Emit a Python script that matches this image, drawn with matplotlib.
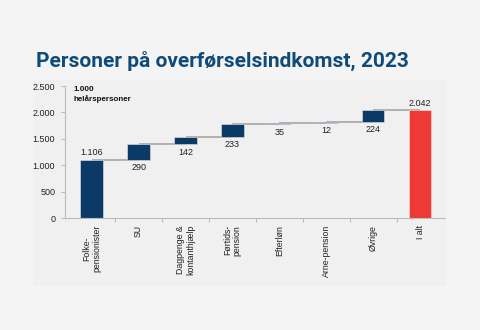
import matplotlib
matplotlib.use("Agg")
import matplotlib.pyplot as plt
from matplotlib.patches import Rectangle
import numpy as np

categories = ["Folke-\npensionister", "SU", "Dagpenge &\nkontanthjælp", "Førtids-\npension",
              "Efterløn", "Arne-pension", "Øvrige", "I alt"]
values = [1106, 290, 142, 233, 35, 12, 224]
total = 2042
value_labels = ["1.106", "290", "142", "233", "35", "12", "224", "2.042"]
yticks = [0, 500, 1000, 1500, 2000, 2500]
ytick_labels = ["0", "500", "1.000", "1.500", "2.000", "2.500"]

navy = "#0c3a67"
red = "#ee3a36"
grey = "#a6a6a6"

fig = plt.figure(figsize=(4.8, 3.3), dpi=100)
fig.patch.set_facecolor("#f4f4f4")
fig.patches.append(Rectangle((33/480, 44/330), 413/480, 206/330, transform=fig.transFigure,
                             facecolor="#f0f0f0", edgecolor="none", zorder=-5))

fig.text(36/480, 1 - 61/330, "Personer på overførselsindkomst, 2023", fontsize=15,
         fontweight="bold", color="#0f4a78", family="Roboto", ha="left", va="center")

ax = fig.add_axes([65/480, 1 - 218/330, 380/480, 132/330])
ax.set_zorder(2)
ax.set_facecolor("none")

n = len(values) + 1
x = np.arange(n)
bottoms = []
cum = 0
for i, v in enumerate(values):
    if i == 0:
        bottoms.append(0)
    else:
        bottoms.append(cum)
    cum += v
heights = values + [total]
bottoms = bottoms + [0]
colors = [navy] * len(values) + [red]

# connector lines
levels = np.cumsum(values)
for i in range(len(values)):
    ax.plot([x[i], x[i + 1]], [levels[i], levels[i]], color=grey, lw=1.2, zorder=1,
            solid_capstyle="butt")

ax.bar(x, heights, bottom=bottoms, width=0.48, color=colors, edgecolor="#e8e8e8",
       linewidth=0.4, zorder=2)

fs = 6.5
fam = "Liberation Sans"
for i in range(n):
    if i == 0 or i == n - 1:
        ax.text(x[i], bottoms[i] + heights[i] + 45, value_labels[i], ha="center", va="bottom",
                fontsize=fs, family=fam, color="#222222")
    else:
        ax.text(x[i], bottoms[i] - 65, value_labels[i], ha="center", va="top",
                fontsize=fs, family=fam, color="#222222")

ax.text(0.022, 1.0, "1.000\nhelårspersoner", transform=ax.transAxes, ha="left", va="top",
        fontsize=5.8, fontweight="bold", family=fam, color="#111111", linespacing=1.3)

ax.set_xlim(-0.57, n - 1 + 0.53)
ax.set_ylim(0, 2500)
ax.set_yticks(yticks)
ax.set_yticklabels(ytick_labels, fontsize=fs, family=fam, color="#222222")
ax.set_xticks(x)
ax.set_xticklabels(categories, rotation=90, fontsize=6.3, family=fam, color="#222222",
                   va="top", ha="center", linespacing=1.1)
ax.tick_params(axis="x", length=0, pad=5)
ax.set_xticks(np.arange(n - 1) + 0.5, minor=True)
ax.tick_params(axis="x", which="minor", length=3, color="#bbbbbb", width=0.8)
ax.tick_params(axis="y", length=3, color="#bbbbbb", width=0.8, pad=4)
for s in ["top", "right"]:
    ax.spines[s].set_visible(False)
for s in ["left", "bottom"]:
    ax.spines[s].set_color("#bbbbbb")
    ax.spines[s].set_linewidth(0.8)

fig.savefig("out.png", dpi=100, facecolor=fig.get_facecolor())
